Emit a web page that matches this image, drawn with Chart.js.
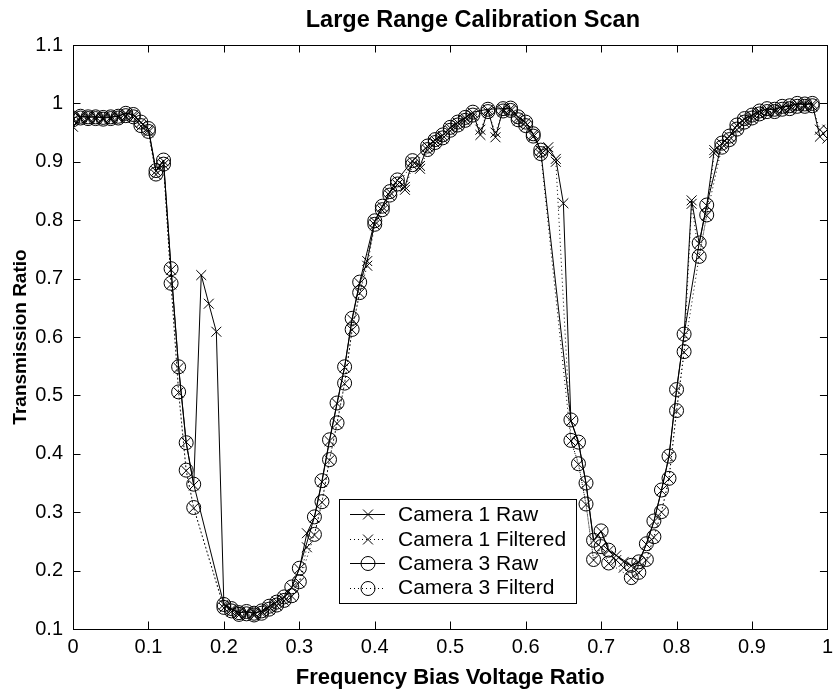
<!DOCTYPE html>
<html><head><meta charset="utf-8">
<script src="https://cdn.jsdelivr.net/npm/chart.js@4/dist/chart.umd.min.js"></script>
<style>html,body{margin:0;padding:0;background:#fff;}canvas{display:block;}</style>
</head><body>
<canvas id="c" width="839" height="692"></canvas>
<script>
const xValues = [
0.00,0.01,0.02,0.03,0.04,0.05,0.06,0.07,0.08,0.09,
0.10,0.11,0.12,0.13,0.14,0.15,0.16,0.17,0.18,0.19,
0.20,0.21,0.22,0.23,0.24,0.25,0.26,0.27,0.28,0.29,
0.30,0.31,0.32,0.33,0.34,0.35,0.36,0.37,0.38,0.39,
0.40,0.41,0.42,0.43,0.44,0.45,0.46,0.47,0.48,0.49,
0.50,0.51,0.52,0.53,0.54,0.55,0.56,0.57,0.58,0.59,
0.60,0.61,0.62,0.63,0.64,0.65,0.66,0.67,0.68,0.69,
0.70,0.71,0.72,0.73,0.74,0.75,0.76,0.77,0.78,0.79,
0.80,0.81,0.82,0.83,0.84,0.85,0.86,0.87,0.88,0.89,
0.90,0.91,0.92,0.93,0.94,0.95,0.96,0.97,0.98,0.99,
1.00];

const cam1Raw = [
0.960,0.977,0.976,0.977,0.975,0.976,0.978,0.983,0.980,0.967,
0.955,0.884,0.901,0.715,0.547,0.420,0.346,0.706,0.657,0.609,
0.142,0.134,0.128,0.129,0.127,0.130,0.138,0.147,0.154,0.171,
0.203,0.264,0.291,0.352,0.422,0.486,0.548,0.630,0.692,0.730,
0.798,0.823,0.848,0.868,0.857,0.901,0.893,0.926,0.937,0.945,
0.958,0.967,0.975,0.984,0.946,0.989,0.942,0.990,0.991,0.976,
0.967,0.947,0.919,0.925,0.905,0.829,0.456,0.419,0.349,0.251,
0.267,0.234,0.226,0.215,0.208,0.214,0.245,0.284,0.337,0.395,
0.509,0.604,0.834,0.760,0.825,0.920,0.931,0.943,0.962,0.973,
0.979,0.986,0.990,0.989,0.994,0.995,0.999,0.998,0.999,0.943,
0.955];

const cam1Filtered = [
0.972,0.974,0.974,0.973,0.973,0.973,0.975,0.978,0.976,0.961,
0.951,0.878,0.895,0.690,0.505,0.371,0.307,null,null,null,
0.136,0.130,0.124,0.126,0.123,0.127,0.133,0.140,0.148,0.156,
0.180,0.240,0.261,0.317,0.389,0.452,0.520,0.612,0.675,0.722,
0.792,0.817,0.842,0.861,0.852,0.894,0.888,0.920,0.932,0.940,
0.953,0.962,0.970,0.979,0.955,0.985,0.950,0.986,0.987,0.971,
0.961,0.943,0.913,0.918,0.900,null,0.422,0.382,0.313,0.218,
0.240,0.212,0.218,0.205,0.187,0.196,0.218,0.257,0.300,0.357,
0.473,0.574,0.828,0.737,0.808,0.915,0.924,0.937,0.955,0.967,
0.974,0.981,0.985,0.985,0.989,0.990,0.994,0.994,0.995,0.955,
0.940];

const cam3Raw = [
0.975,0.978,0.977,0.977,0.976,0.977,0.978,0.983,0.981,0.968,
0.957,0.885,0.903,0.717,0.549,0.419,0.348,null,null,null,
0.142,0.135,0.128,0.130,0.127,0.131,0.139,0.146,0.155,0.172,
0.204,null,0.292,0.354,0.424,0.487,0.549,0.632,0.694,null,
0.799,0.824,0.849,0.869,null,0.902,null,0.927,0.938,0.946,
0.959,0.968,0.976,0.985,null,0.990,null,0.991,0.992,0.977,
0.968,0.948,0.920,null,null,null,0.458,0.420,0.350,0.252,
0.268,0.235,null,null,0.209,0.215,0.246,0.285,0.338,0.396,
0.510,0.605,null,0.761,0.826,null,0.932,0.944,0.963,0.974,
0.980,0.987,0.991,0.990,0.995,0.996,1.000,0.999,1.000,null,
null];

const cam3Filtered = [
0.972,0.975,0.974,0.974,0.973,0.974,0.975,0.979,0.977,0.962,
0.952,0.879,0.896,0.692,0.506,0.372,0.308,null,null,null,
0.137,0.131,0.125,0.126,0.124,0.127,0.134,0.141,0.149,0.157,
0.181,null,0.262,0.318,0.390,0.453,0.521,0.613,0.676,null,
0.793,0.818,0.843,0.862,null,0.895,null,0.921,0.933,0.941,
0.954,0.963,0.971,0.980,null,0.986,null,0.987,0.988,0.972,
0.962,0.944,0.914,null,null,null,0.423,0.383,0.314,0.219,
0.241,0.213,null,null,0.188,0.197,0.219,0.258,0.301,0.358,
0.474,0.575,null,0.738,0.809,null,0.925,0.938,0.956,0.968,
0.975,0.982,0.986,0.986,0.990,0.991,0.995,0.995,0.996,null,
null];

const seriesLabels = ['Camera 1 Raw','Camera 1 Filtered','Camera 3 Raw','Camera 3 Filterd'];
const titleText = 'Large Range Calibration Scan';
const xAxisTitle = 'Frequency Bias Voltage Ratio';
const yAxisTitle = 'Transmission Ratio';

const FONT = '"Liberation Sans", Arial, Helvetica, sans-serif';

function pts(ys){ return ys.map((y,i)=>({x:xValues[i], y:y})); }

const styles = [
  {pointStyle:'crossRot', dash:[], radius:7},
  {pointStyle:'crossRot', dash:[1,3], radius:7},
  {pointStyle:'circle', dash:[], radius:7},
  {pointStyle:'circle', dash:[1,3], radius:7}
];
const seriesData = [cam1Raw, cam1Filtered, cam3Raw, cam3Filtered];

const datasets = seriesData.map((ys,k)=>({
  label: seriesLabels[k],
  data: pts(ys),
  borderColor:'#000',
  backgroundColor:'rgba(0,0,0,0)',
  borderWidth:1,
  borderDash: styles[k].dash,
  pointStyle: styles[k].pointStyle,
  pointRadius: styles[k].radius,
  pointBorderColor:'#000',
  pointBackgroundColor:'rgba(0,0,0,0)',
  pointBorderWidth:1,
  spanGaps:true,
  tension:0,
  fill:false
}));

function drawMarker(ctx, style, x, y, r){
  ctx.beginPath();
  if(style==='circle'){
    ctx.arc(x,y,r,0,Math.PI*2);
  } else {
    const d = r*Math.SQRT1_2;
    ctx.moveTo(x-d,y-d); ctx.lineTo(x+d,y+d);
    ctx.moveTo(x+d,y-d); ctx.lineTo(x-d,y+d);
  }
  ctx.stroke();
}

const framePlugin = {
  id:'frame',
  afterLayout(chart){
    // centre the title slightly right of the axes centre, as in the original
    const a = chart.chartArea, tb = chart.titleBlock;
    if(tb){
      const w = a.right - a.left;
      const c = a.left + 0.53*w;
      const half = Math.min(c, chart.width - c);
      tb.left = c - half; tb.right = c + half; tb.width = 2*half;
    }
  },
  afterDatasetsDraw(chart){
    const {ctx, chartArea:a, scales} = chart;
    ctx.save();
    ctx.strokeStyle='#000';
    ctx.lineWidth=1;
    ctx.setLineDash([]);
    ctx.strokeRect(Math.round(a.left)+0.5, Math.round(a.top)+0.5, Math.round(a.right-a.left), Math.round(a.bottom-a.top));
    const tl = 7.5;
    ctx.beginPath();
    scales.x.ticks.forEach(t=>{
      const px = Math.round(scales.x.getPixelForValue(t.value))+0.5;
      ctx.moveTo(px,a.bottom); ctx.lineTo(px,a.bottom-tl);
      ctx.moveTo(px,a.top); ctx.lineTo(px,a.top+tl);
    });
    scales.y.ticks.forEach(t=>{
      const py = Math.round(scales.y.getPixelForValue(t.value))+0.5;
      ctx.moveTo(a.left,py); ctx.lineTo(a.left+tl,py);
      ctx.moveTo(a.right,py); ctx.lineTo(a.right-tl,py);
    });
    ctx.stroke();
    ctx.restore();
  },
  afterDraw(chart){
    const {ctx, chartArea:a} = chart;
    const w = a.right-a.left, h = a.bottom-a.top;
    const bx = a.left + 0.3526*w, by = a.top + 0.778*h;
    const bw = 0.314*w, bh = 0.1776*h;
    ctx.save();
    ctx.fillStyle='#fff';
    ctx.fillRect(bx,by,bw,bh);
    ctx.strokeStyle='#000'; ctx.lineWidth=1; ctx.setLineDash([]);
    ctx.strokeRect(Math.round(bx)+0.5, Math.round(by)+0.5, Math.round(bw), Math.round(bh));
    ctx.font = '21px ' + FONT;
    ctx.textBaseline='middle';
    ctx.fillStyle='#000';
    const rowH = bh/4.25;
    chart.data.datasets.forEach((ds,k)=>{
      const cy = by + rowH*(0.62 + k);
      ctx.setLineDash(ds.borderDash);
      ctx.beginPath();
      ctx.moveTo(bx+11, Math.round(cy)+0.5); ctx.lineTo(bx+46, Math.round(cy)+0.5);
      ctx.stroke();
      ctx.setLineDash([]);
      drawMarker(ctx, ds.pointStyle, bx+29, Math.round(cy)+0.5, 7);
      ctx.fillText(ds.label, bx+59, cy+1);
    });
    ctx.restore();
  }
};

function fmt(v){ return String(Number(Number(v).toFixed(1))); }

new Chart(document.getElementById('c'), {
  type:'line',
  data:{ datasets },
  plugins:[framePlugin],
  options:{
    responsive:false,
    animation:false,
    devicePixelRatio:1,
    layout:{padding:{left:0,right:4,top:0,bottom:0}},
    plugins:{
      legend:{display:false},
      tooltip:{enabled:false},
      title:{display:true, text:titleText, color:'#000',
        font:{family:FONT, size:23.5, weight:'bold', lineHeight:1.2},
        padding:{top:6,bottom:10.8}}
    },
    scales:{
      x:{type:'linear', min:0, max:1,
        ticks:{stepSize:0.1, color:'#000', font:{family:FONT,size:20}, padding:6, maxRotation:0, callback:fmt},
        grid:{display:false, drawTicks:false}, border:{display:false},
        title:{display:true, text:xAxisTitle, color:'#000', font:{family:FONT,size:22,weight:'bold',lineHeight:1.2}, padding:{top:0,bottom:1}},
        afterFit(s){ s.height = 63; }
      },
      y:{type:'linear', min:0.1, max:1.1,
        ticks:{stepSize:0.1, color:'#000', font:{family:FONT,size:20}, padding:10, callback:fmt},
        grid:{display:false, drawTicks:false}, border:{display:false},
        title:{display:true, text:yAxisTitle, color:'#000', font:{family:FONT,size:19,weight:'bold',lineHeight:1.2}, padding:{top:9,bottom:0}},
        afterFit(s){ s.width = 73; }
      }
    }
  }
});
</script>
</body></html>
